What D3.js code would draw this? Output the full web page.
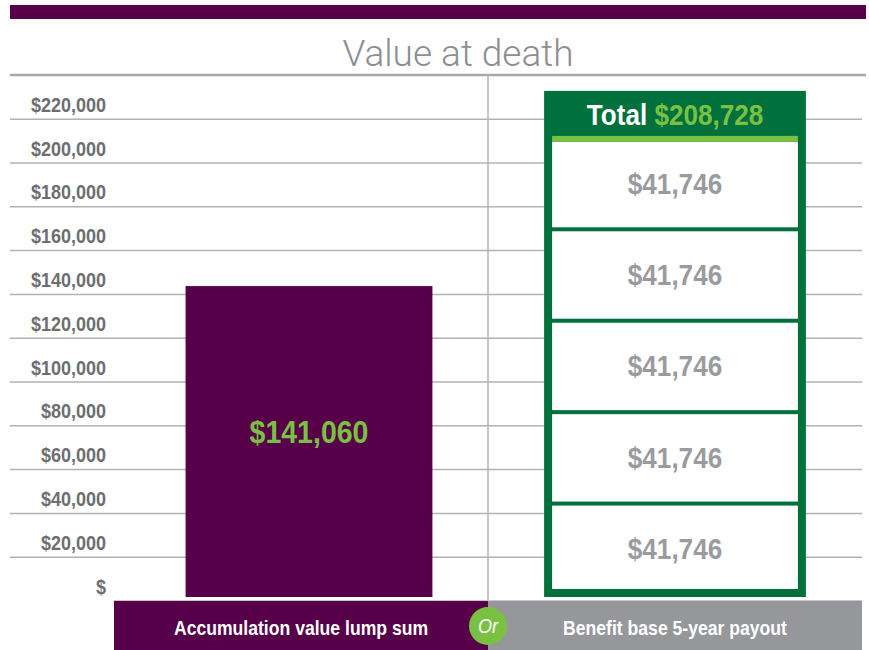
<!DOCTYPE html>
<html>
<head>
<meta charset="utf-8">
<script src="https://cdn.jsdelivr.net/npm/d3@7"></script>
<style>
  body { margin: 0; background: #fff; }
  svg { display: block; }
</style>
</head>
<body>
<script>
// chart data
var categories = ['Accumulation value lump sum', 'Benefit base 5-year payout'];
var lumpSum = [141060];
var payouts = [41746, 41746, 41746, 41746, 41746];
var totalLabel = 208728;
var yTicks = [0, 20000, 40000, 60000, 80000, 100000, 120000, 140000, 160000, 180000, 200000, 220000];

var width = 869, height = 650;
var purple = '#570049', darkGreen = '#00703c', lightGreen = '#7ac143',
    midGray = '#96979a', gridGray = '#b1b2b4';
var sans = '"Liberation Sans", Arial, sans-serif';
var squeeze = 0.9;   // fake a condensed face

var svg = d3.select('body').append('svg')
    .attr('width', width)
    .attr('height', height);

// condensed text helper: position by transform, squeeze horizontally
function cond(sel, fx, fy, k) {
    k = k || squeeze;
    return sel
        .attr('transform', function (d, i) {
            return 'translate(' + fx(d, i) + ',' + fy(d, i) + ') scale(' + k + ',1)';
        })
        .attr('font-family', sans)
        .attr('font-weight', 'bold');
}

// scales
var x = d3.scaleBand().domain(categories).range([114, 862]);
var y = d3.scaleLinear().domain([0, 220000]).range([595, 113.2]);
var fmt = d3.format(',');
var money = function (v) { return v === 0 ? '$' : '$' + fmt(v); };

// top banner + title + rule
svg.append('rect')
    .attr('x', 10).attr('y', 5)
    .attr('width', 856).attr('height', 14)
    .attr('fill', purple);

svg.append('text')
    .attr('x', 458).attr('y', 66)
    .attr('text-anchor', 'middle')
    .attr('font-family', 'Roboto, "Open Sans", sans-serif')
    .attr('font-weight', 300)
    .attr('font-size', '37px')
    .attr('fill', '#8d8e91')
    .text('Value at death');

svg.append('line')
    .attr('x1', 10).attr('x2', 866)
    .attr('y1', 75).attr('y2', 75)
    .attr('stroke', '#a7a9ac')
    .attr('stroke-width', 2.5);

// grid lines (drawn just under each tick label)
svg.append('g')
    .selectAll('line')
    .data(yTicks.filter(function (d) { return d > 0; }))
    .join('line')
    .attr('x1', 10).attr('x2', 862)
    .attr('y1', function (d) { return y(d) + 6; })
    .attr('y2', function (d) { return y(d) + 6; })
    .attr('stroke', gridGray)
    .attr('stroke-width', 1.5);

// divider between the two options
svg.append('line')
    .attr('x1', x(categories[1])).attr('x2', x(categories[1]))
    .attr('y1', 76).attr('y2', 600)
    .attr('stroke', gridGray)
    .attr('stroke-width', 1.5);

// y labels
cond(svg.append('g')
    .selectAll('text')
    .data(yTicks)
    .join('text'),
    function () { return 106; },
    function (d) { return y(d) - 1.5; })
    .attr('text-anchor', 'end')
    .attr('font-size', '20px')
    .attr('fill', '#6d6e71')
    .text(money);

// left bar: lump sum
var barW = x.bandwidth() * 0.66;
var cx0 = x(categories[0]) + x.bandwidth() / 2 + 8;
svg.append('rect')
    .attr('x', cx0 - barW / 2)
    .attr('y', y(lumpSum[0]))
    .attr('width', barW)
    .attr('height', y(0) + 2 - y(lumpSum[0]))
    .attr('fill', purple);

cond(svg.append('text'),
    function () { return cx0; },
    function () { return (y(lumpSum[0]) + y(0)) / 2 + 2; }, 0.92)
    .attr('text-anchor', 'middle')
    .attr('font-size', '31px')
    .attr('fill', lightGreen)
    .text(money(lumpSum[0]));

// right stack: 5-year payout
var cx1 = x(categories[1]) + x.bandwidth() / 2;
var stackW = x.bandwidth() * 0.70;
var headerH = 47;
var ends = Array.from(d3.cumsum(payouts));
var segs = payouts.map(function (v, i) { return {v: v, lo: ends[i] - v, hi: ends[i]}; });
var stackTop = y(ends[ends.length - 1]);

svg.append('rect')
    .attr('x', cx1 - stackW / 2)
    .attr('y', stackTop - headerH)
    .attr('width', stackW)
    .attr('height', y(0) + 2 - (stackTop - headerH))
    .attr('fill', darkGreen);

var inner = stackW - 16;
svg.append('g')
    .selectAll('rect')
    .data(segs)
    .join('rect')
    .attr('x', cx1 - inner / 2)
    .attr('y', function (d, i) { return y(d.hi) + (i === segs.length - 1 ? 4 : 2); })
    .attr('width', inner)
    .attr('height', function (d, i) {
        var top = y(d.hi) + (i === segs.length - 1 ? 4 : 2);
        var bot = y(d.lo) - (i === 0 ? 6 : 2);
        return bot - top;
    })
    .attr('fill', '#fff');

svg.append('rect')
    .attr('x', cx1 - inner / 2)
    .attr('y', stackTop - 2)
    .attr('width', inner)
    .attr('height', 6)
    .attr('fill', lightGreen);

cond(svg.append('g')
    .selectAll('text')
    .data(segs)
    .join('text'),
    function () { return cx1; },
    function (d) { return (y(d.hi) + y(d.lo)) / 2 + 10; })
    .attr('text-anchor', 'middle')
    .attr('font-size', '29px')
    .attr('fill', '#9a9b9e')
    .text(function (d) { return money(d.v); });

var head = cond(svg.append('text'),
    function () { return cx1; },
    function () { return stackTop - 13; })
    .attr('text-anchor', 'middle')
    .attr('font-size', '29px');
head.append('tspan').attr('fill', '#fff').text('Total ');
head.append('tspan').attr('fill', lightGreen).text(money(totalLabel));

// bottom category bands
svg.append('g')
    .selectAll('rect')
    .data(categories)
    .join('rect')
    .attr('x', function (d) { return x(d); })
    .attr('y', 600)
    .attr('width', x.bandwidth())
    .attr('height', 50)
    .attr('fill', function (d, i) { return i === 0 ? purple : midGray; });

svg.append('line')
    .attr('x1', x(categories[0])).attr('x2', x(categories[1]) + x.bandwidth())
    .attr('y1', 600.5).attr('y2', 600.5)
    .attr('stroke', '#c8c8ca')
    .attr('stroke-width', 1);

cond(svg.append('g')
    .selectAll('text')
    .data(categories)
    .join('text'),
    function (d) { return x(d) + x.bandwidth() / 2; },
    function () { return 635; }, 0.88)
    .attr('text-anchor', 'middle')
    .attr('font-size', '20px')
    .attr('fill', '#fff')
    .text(function (d) { return d; });

// "Or" badge
svg.append('circle')
    .attr('cx', x(categories[1]))
    .attr('cy', 626)
    .attr('r', 19)
    .attr('fill', lightGreen);

cond(svg.append('text'),
    function () { return x(categories[1]); },
    function () { return 633; })
    .attr('font-weight', 'normal')
    .attr('text-anchor', 'middle')
    .attr('font-style', 'italic')
    .attr('font-size', '20px')
    .attr('fill', '#fff')
    .text('Or');
</script>
</body>
</html>
